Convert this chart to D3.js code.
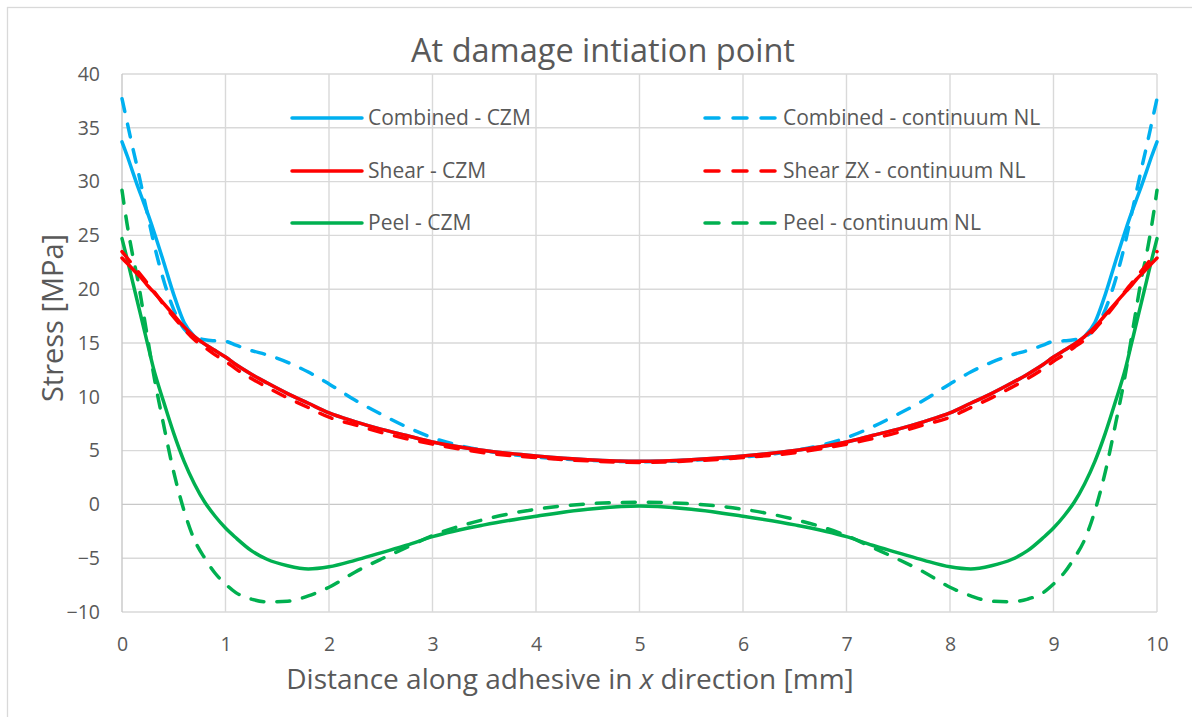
<!DOCTYPE html>
<html><head><meta charset="utf-8">
<script src="https://cdn.jsdelivr.net/npm/d3@7"></script>
<style>
body{margin:0;background:#fff;}
text{font-family:"Open Sans","Noto Sans",sans-serif;fill:#595959;}
</style></head>
<body><svg id="c" width="1192" height="717"></svg>
<script>
const xValues = [0,0.05,0.1,0.15,0.2,0.25,0.3,0.4,0.5,0.6,0.7,0.8,0.9,1.0,1.1,1.25,1.4,1.6,1.8,2.0,2.25,2.5,2.75,3,3.5,4,4.5,5,
  5.5,6,6.5,7,7.25,7.5,7.75,8,8.2,8.4,8.6,8.75,8.9,9.0,9.1,9.2,9.3,9.4,9.5,9.6,9.7,9.75,9.8,9.85,9.9,9.95,10];
const combinedCZM = [33.7,32.4,31.0,29.6,28.3,27.0,25.6,22.6,19.5,16.9,15.6,14.9,14.3,13.7,13.0,12.1,11.3,10.3,9.4,8.5,7.7,7.0,6.4,5.8,5.0,4.5,4.15,4.0,
  4.15,4.5,5.0,5.8,6.4,7.0,7.7,8.5,9.4,10.3,11.3,12.1,13.0,13.7,14.3,14.9,15.6,16.9,19.5,22.6,25.6,27.0,28.3,29.6,31.0,32.4,33.7];
const combinedNL = [37.7,35.5,33.3,31.2,29.0,26.8,24.6,20.9,18.1,16.3,15.6,15.3,15.2,15.15,14.8,14.3,13.9,13.2,12.3,11.2,9.7,8.4,7.2,6.2,5.0,4.4,4.1,3.95,
  4.1,4.4,5.0,6.2,7.2,8.4,9.7,11.2,12.3,13.2,13.9,14.3,14.8,15.15,15.2,15.3,15.6,16.3,18.1,20.9,24.6,26.8,29.0,31.2,33.3,35.5,37.7];
const shearCZM = [22.9,22.4,21.9,21.4,20.9,20.3,19.8,18.7,17.6,16.5,15.6,14.9,14.3,13.7,13.0,12.1,11.3,10.3,9.4,8.5,7.7,7.0,6.4,5.8,5.0,4.5,4.15,4.0,
  4.15,4.5,5.0,5.8,6.4,7.0,7.7,8.5,9.4,10.3,11.3,12.1,13.0,13.7,14.3,14.9,15.6,16.5,17.6,18.7,19.8,20.3,20.9,21.4,21.9,22.4,22.9];
const shearNL = [23.5,22.9,22.3,21.7,21.1,20.5,19.9,18.6,17.4,16.3,15.3,14.6,13.9,13.3,12.6,11.7,10.9,9.9,9.0,8.1,7.4,6.7,6.1,5.6,4.8,4.35,4.05,3.9,
  4.05,4.35,4.8,5.6,6.1,6.7,7.4,8.1,9.0,9.9,10.9,11.7,12.6,13.3,13.9,14.6,15.3,16.3,17.4,18.6,19.9,20.5,21.1,21.7,22.3,22.9,23.5];
const peelCZM = [24.7,22.8,20.8,18.8,16.8,14.8,12.8,9.6,6.6,4.0,1.9,0.2,-1.1,-2.2,-3.1,-4.3,-5.1,-5.7,-6.0,-5.8,-5.2,-4.5,-3.8,-3.0,-1.9,-1.1,-0.45,-0.15,
  -0.45,-1.1,-1.9,-3.0,-3.8,-4.5,-5.2,-5.8,-6.0,-5.7,-5.1,-4.3,-3.1,-2.2,-1.1,0.2,1.9,4.0,6.6,9.6,12.8,14.8,16.8,18.8,20.8,22.8,24.7];
const peelNL = [29.2,26.0,23.3,21.0,18.2,15.3,12.4,7.5,3.0,-0.6,-3.3,-5.0,-6.4,-7.4,-8.2,-8.8,-9.05,-9.0,-8.5,-7.7,-6.3,-5.1,-4.0,-2.9,-1.4,-0.45,0.05,0.2,
  0.05,-0.45,-1.4,-2.9,-4.0,-5.1,-6.3,-7.7,-8.5,-9.0,-9.05,-8.8,-8.2,-7.4,-6.4,-5.0,-3.3,-0.6,3.0,7.5,12.4,15.3,18.2,21.0,23.3,26.0,29.2];
const seriesNames = ["Combined - CZM","Shear - CZM","Peel - CZM","Combined - continuum NL","Shear ZX - continuum NL","Peel - continuum NL"];
const xTicks = [0,1,2,3,4,5,6,7,8,9,10];
const yTicks = [-10,-5,0,5,10,15,20,25,30,35,40];

const series = [
  {name:seriesNames[0], vals:combinedCZM, color:"#00B0F0", dash:null},
  {name:seriesNames[1], vals:shearCZM, color:"#FF0000", dash:null},
  {name:seriesNames[2], vals:peelCZM, color:"#00B050", dash:null},
  {name:seriesNames[3], vals:combinedNL, color:"#00B0F0", dash:"13 13"},
  {name:seriesNames[4], vals:shearNL, color:"#FF0000", dash:"13 13"},
  {name:seriesNames[5], vals:peelNL, color:"#00B050", dash:"13 13"}
];

const svg = d3.select("#c");
svg.append("rect").attr("x",7.5).attr("y",7.5).attr("width",1200).attr("height",720)
  .attr("fill","#fff").attr("stroke","#d9d9d9").attr("stroke-width",1.3);

const L=122, R=1157, T=74, B=612;
const x = d3.scaleLinear().domain([0,10]).range([L,R]);
const y = d3.scaleLinear().domain([-10,40]).range([B,T]);

const g = svg.append("g");
g.selectAll(".hg").data(yTicks).join("line")
  .attr("x1",L).attr("x2",R).attr("y1",d=>y(d)).attr("y2",d=>y(d))
  .attr("stroke",d=>d===0?"#c8c8c8":"#d9d9d9").attr("stroke-width",1.4);
g.selectAll(".vg").data(xTicks).join("line")
  .attr("y1",T).attr("y2",B).attr("x1",d=>x(d)).attr("x2",d=>x(d))
  .attr("stroke",d=>d===0?"#c8c8c8":"#d9d9d9").attr("stroke-width",1.4);

const ax = svg.append("g").attr("transform",`translate(0,${B})`)
  .call(d3.axisBottom(x).tickValues(xTicks).tickSize(0).tickPadding(25).tickFormat(d3.format("d")));
ax.select(".domain").remove();
ax.selectAll("text").attr("font-size",19.5).style("fill","#595959").attr("font-family","Open Sans");
const ay = svg.append("g").attr("transform",`translate(${L},0)`)
  .call(d3.axisLeft(y).tickValues(yTicks).tickSize(0).tickPadding(22).tickFormat(d3.format("d")));
ay.select(".domain").remove();
ay.selectAll("text").attr("font-size",19.5).style("fill","#595959").attr("font-family","Open Sans");

// legend
const legX1=[292,705], legLen=[70,71], legTx=[368,783], legY=[118,171,223];
series.forEach((s,i)=>{
  const col = i<3?0:1, row=i%3;
  const lg = svg.append("g");
  lg.append("line").attr("x1",legX1[col]).attr("x2",legX1[col]+legLen[col])
    .attr("y1",legY[row]).attr("y2",legY[row]).attr("stroke",s.color).attr("stroke-width",3.5)
    .attr("stroke-linecap","round").attr("stroke-dasharray",s.dash?"14 14":null);
  lg.append("text").attr("x",legTx[col]).attr("y",legY[row]).attr("dy","0.35em")
    .attr("font-size",21).text(s.name);
});

const line = d3.line().x((d,i)=>x(xValues[i])).y(d=>y(d)).curve(d3.curveMonotoneX);
const order=[2,5,0,3,1,4];
order.forEach(i=>{
  const s=series[i];
  svg.append("path").attr("d",line(s.vals)).attr("fill","none").attr("stroke",s.color)
    .attr("stroke-width",3.5).attr("stroke-linecap","round").attr("stroke-linejoin","round")
    .attr("stroke-dasharray",s.dash);
});

svg.append("text").attr("x",603).attr("y",62).attr("text-anchor","middle").attr("font-size",32.5).text("At damage intiation point");
svg.append("text").attr("transform","translate(53,318) rotate(-90)").attr("dy","0.35em").attr("text-anchor","middle").attr("font-size",29).text("Stress [MPa]");
const xt = svg.append("text").attr("x",570).attr("y",689).attr("text-anchor","middle").attr("font-size",28);
xt.append("tspan").text("Distance along adhesive in ");
xt.append("tspan").attr("font-style","italic").text("x");
xt.append("tspan").text(" direction [mm]");
</script></body></html>
